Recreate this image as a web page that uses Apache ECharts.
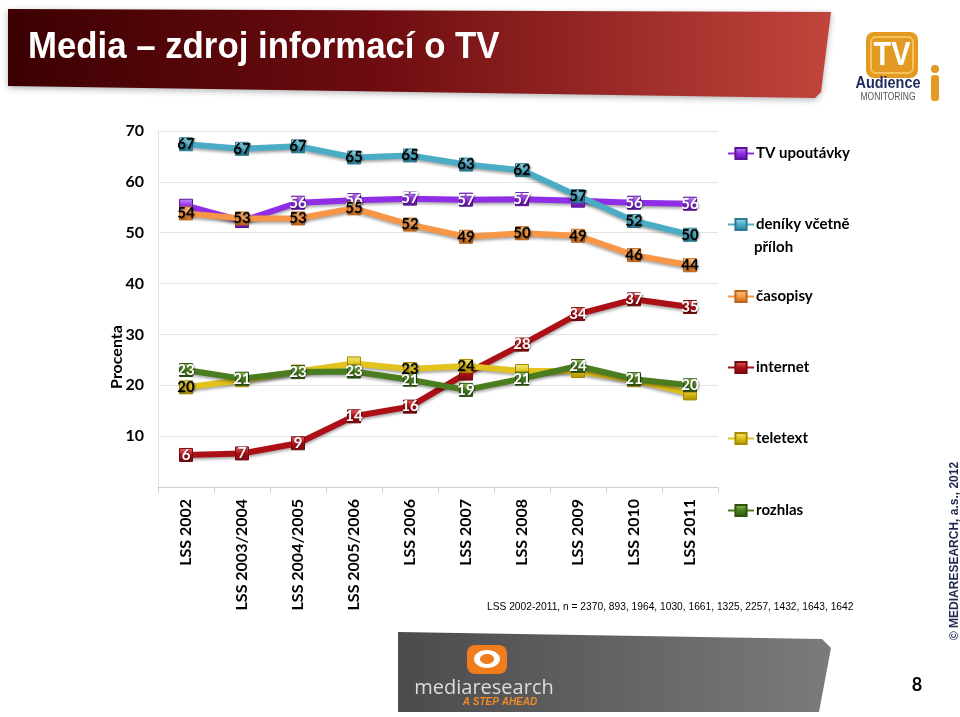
<!DOCTYPE html>
<html><head><meta charset="utf-8">
<script src="https://cdn.jsdelivr.net/npm/echarts@6/dist/echarts.min.js"></script>
<style>html,body{margin:0;padding:0;background:#fff}#c{width:960px;height:717px}</style>
</head><body><div id="c"></div>
<script>
const categories = ['LSS 2002','LSS 2003/2004','LSS 2004/2005','LSS 2005/2006','LSS 2006','LSS 2007','LSS 2008','LSS 2009','LSS 2010','LSS 2011'];
const seriesNames = ['TV upoutávky','deníky včetně příloh','časopisy','internet','teletext','rozhlas'];
const tvUpoutavky = [55.3, 52.3, 55.9, 56.4, 56.7, 56.5, 56.6, 56.3, 55.9, 55.7];
const denikyVcetnePriloh = [67.4, 66.5, 67.0, 64.8, 65.2, 63.4, 62.3, 57.2, 52.3, 49.6];
const casopisy = [53.8, 52.8, 52.8, 54.8, 51.6, 49.2, 49.9, 49.4, 45.6, 43.6];
const internet = [6.3, 6.6, 8.6, 13.9, 15.8, 22.3, 28.0, 34.0, 36.9, 35.4];
const teletext = [19.6, 21.0, 22.7, 24.3, 23.2, 23.8, 22.8, 22.8, 21.0, 18.4];
const rozhlas = [23.0, 21.3, 22.6, 22.7, 21.1, 19.1, 21.3, 23.8, 21.2, 20.0];
const yTicks = [0, 10, 20, 30, 40, 50, 60, 70];
const titleText = 'Media – zdroj informací o TV';
const yAxisTitle = 'Procenta';
const footnote = 'LSS 2002-2011, n = 2370, 893, 1964, 1030, 1661, 1325, 2257, 1432, 1643, 1642';
const copyrightText = '© MEDIARESEARCH, a.s., 2012';
const pageNumber = '8';

const allValues = [tvUpoutavky, denikyVcetnePriloh, casopisy, internet, teletext, rozhlas];
const styles = [
  {base:'#8f2ee6', light:'#c990f7', dark:'#5c1399', label:'#fff'},
  {base:'#4bacc6', light:'#a9deeb', dark:'#2a7d93', label:'#000'},
  {base:'#f79646', light:'#fccb92', dark:'#c0661a', label:'#000'},
  {base:'#ad0f17', light:'#ea6a6a', dark:'#740a0e', label:'#fff'},
  {base:'#e2c21c', light:'#f7e97e', dark:'#a88c00', label:'#000'},
  {base:'#4a7d1f', light:'#93c35e', dark:'#2f5412', label:'#fff'}
];
const hiddenLabels = {0:[0,1,7], 3:[5], 4:[1,2,3,6,7,8,9]};
const legendCenters = [153, 224, 296, 367, 438, 510];

const FONT = 'Lato';
const series = allValues.map((vals, si) => {
  const st = styles[si];
  const hid = hiddenLabels[si] || [];
  return {
    name: seriesNames[si],
    type: 'line',
    data: vals.map((v, i) => ({value: v, label: {show: hid.indexOf(i) < 0}})),
    symbol: 'rect',
    symbolSize: 13,
    lineStyle: {width: 6, color: st.base, shadowColor: 'rgba(0,0,0,0.35)', shadowBlur: 3, shadowOffsetY: 2},
    itemStyle: {
      color: new echarts.graphic.LinearGradient(0, 0, 0, 1, [{offset: 0, color: st.light}, {offset: 0.5, color: st.base}, {offset: 1, color: st.dark}]),
      borderColor: st.dark, borderWidth: 1
    },
    label: {
      show: true, position: 'inside',
      formatter: p => Math.round(p.value),
      color: st.label, fontFamily: FONT, fontWeight: 'bold', fontSize: 15,
      textShadowColor: 'rgba(0,0,0,0.45)', textShadowBlur: 2, textShadowOffsetX: 1, textShadowOffsetY: 1
    },
    emphasis: {disabled: true},
    animation: false
  };
});

const legends = seriesNames.map((n, i) => ({
  data: [n],
  orient: 'vertical',
  left: 722,
  top: legendCenters[i] - 12,
  itemWidth: 26, itemHeight: 14, itemGap: 0,
  selectedMode: false,
  formatter: nm => nm === 'deníky včetně příloh' ? 'deníky včetně' : nm,
  textStyle: {color: '#000', fontFamily: FONT, fontWeight: 'bold', fontSize: 15, padding: [0, 0, 0, -3]}
}));

const chart = echarts.init(document.getElementById('c'));
chart.setOption({
  backgroundColor: '#fff',
  animation: false,
  grid: {left: 158, right: 242, top: 131, bottom: 230, containLabel: false},
  legend: legends,
  xAxis: {
    type: 'category', data: categories, boundaryGap: true,
    axisLine: {show: true, lineStyle: {color: '#d0d0d0'}},
    axisTick: {show: true, length: 6, lineStyle: {color: '#d0d0d0'}},
    axisLabel: {rotate: 90, margin: 12, color: '#000', fontFamily: FONT, fontWeight: 'bold', fontSize: 16}
  },
  yAxis: {
    type: 'value', min: yTicks[0], max: yTicks[yTicks.length - 1], interval: yTicks[1] - yTicks[0],
    axisLine: {show: true, lineStyle: {color: '#e4e4e4'}}, axisTick: {show: false},
    splitLine: {lineStyle: {color: '#e4e4e4'}},
    axisLabel: {margin: 14, color: '#000', fontFamily: FONT, fontWeight: 'bold', fontSize: 16,
      formatter: v => v === 0 ? '' : String(v)}
  },
  series: series,
  graphic: [
    // title banner
    {type: 'polygon', z: -1, shape: {points: [[8,9],[831,12],[821,92],[815,98],[8,86]]},
      style: {fill: new echarts.graphic.LinearGradient(0,0,1,0,[{offset:0,color:'#3c0002'},{offset:0.45,color:'#6e0c10'},{offset:1,color:'#c2453c'}]),
        shadowColor: 'rgba(0,0,0,0.3)', shadowBlur: 6, shadowOffsetY: 2}},
    {type: 'text', x: 28, y: 48, scaleX: 0.94, style: {text: titleText, fill: '#fff', font: 'bold 37px "Liberation Sans", sans-serif', verticalAlign: 'middle',
      shadowColor: 'rgba(0,0,0,0.5)', shadowBlur: 2, shadowOffsetY: 1}},
    // TV Audience logo
    {type: 'rect', shape: {x: 866, y: 32, width: 52, height: 46, r: 8}, style: {fill: '#e29a22'}},
    {type: 'rect', shape: {x: 871, y: 37, width: 42, height: 36, r: 5}, style: {fill: 'none', stroke: '#f6c35a', lineWidth: 2}},
    {type: 'text', x: 892, y: 56, scaleX: 0.85, style: {text: 'TV', fill: '#fff', font: 'bold 34px "Liberation Sans", sans-serif', align: 'center', verticalAlign: 'middle'}},
    {type: 'text', x: 888, y: 83, scaleX: 0.85, style: {text: 'Audience', fill: '#1d2b5c', font: 'bold 17px "Liberation Sans", sans-serif', align: 'center', verticalAlign: 'middle'}},
    {type: 'text', x: 888, y: 97, scaleX: 0.85, style: {text: 'MONITORING', fill: '#555', font: '10px "Liberation Sans", sans-serif', align: 'center', verticalAlign: 'middle'}},
    {type: 'circle', shape: {cx: 935, cy: 69, r: 4}, style: {fill: '#e29a22'}},
    {type: 'rect', shape: {x: 931, y: 75, width: 8, height: 26, r: 3}, style: {fill: '#e29a22'}},
    // y axis title
    {type: 'text', x: 117, y: 357, rotation: Math.PI / 2, style: {text: yAxisTitle, fill: '#000', font: 'bold 16px "Lato", sans-serif', align: 'center', verticalAlign: 'middle'}},
    // second legend line
    {type: 'text', x: 754, y: 247, style: {text: 'příloh', fill: '#000', font: 'bold 15px "Lato", sans-serif', verticalAlign: 'middle'}},
    // footnote
    {type: 'text', x: 487, y: 607, scaleX: 0.93, style: {text: footnote, fill: '#000', font: '11px "Liberation Sans", sans-serif', verticalAlign: 'middle'}},
    // bottom banner
    {type: 'polygon', z: -1, shape: {points: [[398,632],[822,639],[831,648],[819,712],[398,712]]},
      style: {fill: new echarts.graphic.LinearGradient(0,0,1,0,[{offset:0,color:'#4b4b4d'},{offset:1,color:'#7b7b7e'}])}},
    {type: 'rect', shape: {x: 467, y: 645, width: 40, height: 29, r: 8}, style: {fill: '#f07c1c'}},
    {type: 'ellipse', shape: {cx: 487, cy: 659, rx: 13, ry: 9}, style: {fill: '#fff'}},
    {type: 'ellipse', shape: {cx: 487, cy: 659, rx: 7, ry: 5}, style: {fill: '#f07c1c'}},
    {type: 'text', x: 484, y: 688, style: {text: 'mediaresearch', fill: '#dcdcdc', font: '20px "Open Sans", sans-serif', align: 'center', verticalAlign: 'middle'}},
    {type: 'text', x: 500, y: 702, style: {text: 'A STEP AHEAD', fill: '#f08a2a', font: 'italic bold 10px "Liberation Sans", sans-serif', align: 'center', verticalAlign: 'middle'}},
    {type: 'text', x: 917, y: 685, style: {text: pageNumber, fill: '#000', font: 'bold 18px "Lato", sans-serif', align: 'center', verticalAlign: 'middle'}},
    {type: 'text', x: 955, y: 551, rotation: Math.PI / 2, style: {text: copyrightText, fill: '#1f2a50', font: 'bold 12px "Liberation Sans", sans-serif', align: 'center', verticalAlign: 'middle'}}
  ]
});
</script></body></html>
